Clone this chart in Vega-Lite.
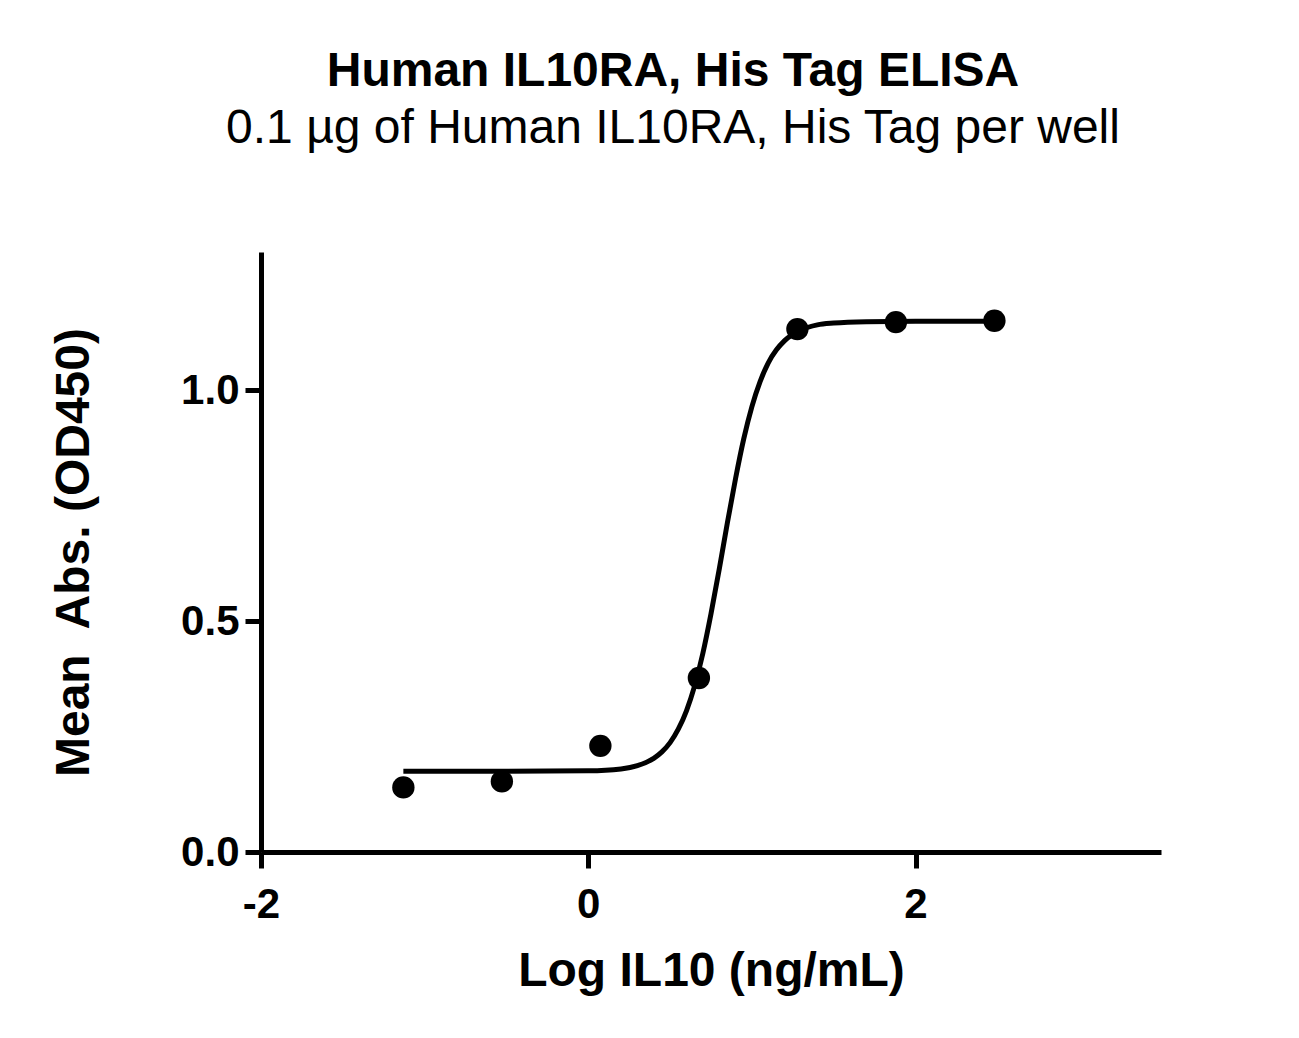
{
  "$schema": "https://vega.github.io/schema/vega-lite/v6.json",
  "width": 900,
  "height": 600,
  "autosize": {"type": "none"},
  "padding": {"left": 261, "top": 252, "right": 138, "bottom": 186},
  "background": "white",
  "config": {
    "view": {"stroke": null},
    "font": "Liberation Sans",
    "axis": {
      "grid": false,
      "domainColor": "black",
      "domainWidth": 5,
      "tickColor": "black",
      "tickWidth": 5,
      "tickSize": 16,
      "labelFont": "Liberation Sans",
      "labelFontSize": 42,
      "labelFontWeight": "bold",
      "labelColor": "black",
      "labelFlush": false,
      "labelPadding": 6,
      "titleFont": "Liberation Sans",
      "titleFontSize": 48,
      "titleFontWeight": "bold",
      "titleColor": "black"
    }
  },
  "title": {
    "text": "Human IL10RA, His Tag ELISA",
    "subtitle": "0.1 µg of Human IL10RA, His Tag per well",
    "font": "Liberation Sans",
    "fontSize": 48,
    "fontWeight": "bold",
    "color": "black",
    "subtitleFont": "Liberation Sans",
    "subtitleFontSize": 48,
    "subtitleFontWeight": "normal",
    "subtitleColor": "black",
    "subtitlePadding": 9,
    "anchor": "middle",
    "dx": -38,
    "offset": 99
  },
  "layer": [
    {
      "data": {
        "values": [
          {"x": -1.13, "y": 0.175},
          {"x": -0.5, "y": 0.175},
          {"x": 0.0, "y": 0.176},
          {"x": 0.2, "y": 0.18},
          {"x": 0.3, "y": 0.187},
          {"x": 0.4, "y": 0.203},
          {"x": 0.45, "y": 0.217},
          {"x": 0.5, "y": 0.237},
          {"x": 0.55, "y": 0.266},
          {"x": 0.6, "y": 0.306},
          {"x": 0.65, "y": 0.36},
          {"x": 0.7, "y": 0.43},
          {"x": 0.75, "y": 0.516},
          {"x": 0.8, "y": 0.612},
          {"x": 0.85, "y": 0.713},
          {"x": 0.9, "y": 0.809},
          {"x": 0.95, "y": 0.895},
          {"x": 1.0, "y": 0.965},
          {"x": 1.05, "y": 1.019},
          {"x": 1.1, "y": 1.06},
          {"x": 1.15, "y": 1.088},
          {"x": 1.2, "y": 1.108},
          {"x": 1.3, "y": 1.131},
          {"x": 1.4, "y": 1.142},
          {"x": 1.5, "y": 1.146},
          {"x": 1.7, "y": 1.149},
          {"x": 2.0, "y": 1.15},
          {"x": 2.48, "y": 1.15}
        ]
      },
      "mark": {"type": "line", "color": "black", "strokeWidth": 5, "interpolate": "monotone"},
      "encoding": {
        "x": {"field": "x", "type": "quantitative"},
        "y": {"field": "y", "type": "quantitative"}
      }
    },
    {
      "data": {
        "values": [
          {"logc": -1.13, "od": 0.14},
          {"logc": -0.528, "od": 0.153},
          {"logc": 0.074, "od": 0.23},
          {"logc": 0.676, "od": 0.377},
          {"logc": 1.278, "od": 1.133},
          {"logc": 1.88, "od": 1.148},
          {"logc": 2.482, "od": 1.151}
        ]
      },
      "mark": {"type": "circle", "color": "black", "opacity": 1, "size": 500},
      "encoding": {
        "x": {
          "field": "logc",
          "type": "quantitative",
          "scale": {"domain": [-2, 3.5], "nice": false, "zero": false},
          "axis": {"title": "Log IL10 (ng/mL)", "values": [-2, 0, 2], "labelExpr": "'' + datum.value", "labelPadding": 16, "titlePadding": 22}
        },
        "y": {
          "field": "od",
          "type": "quantitative",
          "scale": {"domain": [0, 1.3], "nice": false},
          "axis": {"title": "Mean\u00a0 Abs. (OD450)", "values": [0, 0.5, 1], "format": ".1f", "titlePadding": 82}
        }
      }
    }
  ]
}
